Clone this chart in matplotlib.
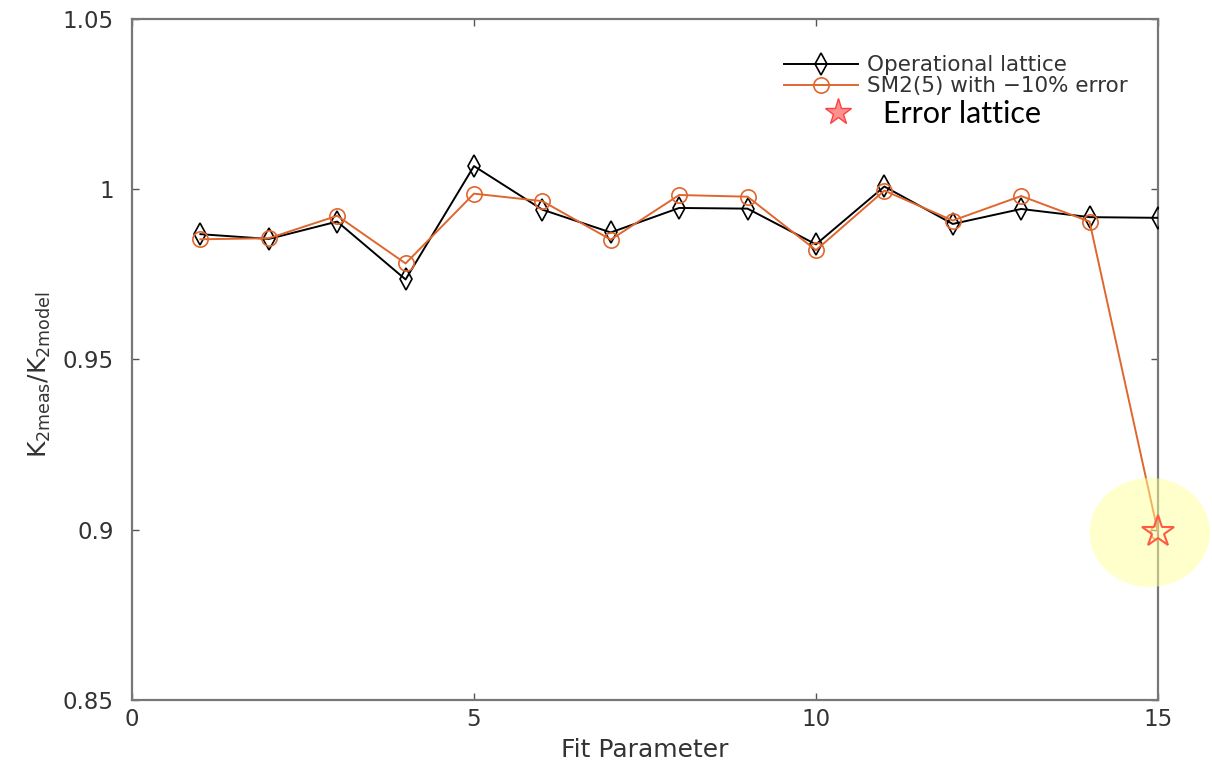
import matplotlib
matplotlib.use("Agg")
import matplotlib.pyplot as plt
from matplotlib.patches import Ellipse
from matplotlib.lines import Line2D

fit_param = list(range(1, 16))
operational = [0.9868, 0.9854, 0.9905, 0.9735, 1.0068, 0.9940, 0.9873, 0.9945, 0.9943,
               0.9838, 1.0008, 0.9898, 0.9942, 0.9918, 0.9916]
sm2_error = [0.9853, 0.9856, 0.9922, 0.9782, 0.9987, 0.9965, 0.9852, 0.9983, 0.9978,
             0.9821, 0.9996, 0.9908, 0.9980, 0.9905, 0.8992]
error_x = [15]
error_y = [0.8992]

xticks = [0, 5, 10, 15]
yticks = [0.85, 0.9, 0.95, 1.0, 1.05]
yticklabels = ["0.85", "0.9", "0.95", "1", "1.05"]

plt.rcParams['font.family'] = ['DejaVu Sans']
fig = plt.figure(figsize=(12.12, 7.65), dpi=100)
ax = fig.add_axes([0.1089, 0.0850, 0.8465, 0.8902])

orange = '#E0662E'
ax.plot(fit_param, operational, color='black', lw=1.4, marker='d', ms=11,
        mfc='none', mec='black', mew=1.2, label='Operational lattice', zorder=3)
ax.plot(fit_param, sm2_error, color=orange, lw=1.4, marker='o', ms=11,
        mfc='none', mec=orange, mew=1.2, label='SM2(5) with \u221210% error', zorder=4)

# highlight ellipse
ell = Ellipse((14.88, 0.8992), width=1.76, height=0.032, facecolor='#FFFF99',
              alpha=0.5, edgecolor='none', clip_on=False, zorder=5)
ax.add_patch(ell)
ax.plot(error_x, error_y, linestyle='none', marker='*', ms=24, mfc='none',
        mec='#FF5A45', mew=1.5, zorder=6, clip_on=False)

ax.set_xlim(0, 15)
ax.set_ylim(0.85, 1.05)
ax.set_xticks(xticks)
ax.set_yticks(yticks)
ax.set_yticklabels(yticklabels)
ax.tick_params(direction='in', length=5, width=1, color='#555555',
               labelsize=16.5, labelcolor='#333333', top=True, right=True)
ax.tick_params(axis='y', pad=13)
ax.tick_params(axis='x', pad=6)
for s in ax.spines.values():
    s.set_color('#777777')
    s.set_linewidth(1.6)

ax.set_xlabel('Fit Parameter', fontsize=18, color='#333333', labelpad=5)
ax.set_ylabel(r'K$_{\mathregular{2meas}}$/K$_{\mathregular{2model}}$', fontsize=18,
              color='#333333')
ax.yaxis.set_label_coords(-0.077, 0.477)

handles, labels = ax.get_legend_handles_labels()
leg = ax.legend(handles, labels, loc='upper left', bbox_to_anchor=(0.636, 0.947),
                frameon=False, fontsize=15.5, handlelength=3.4, labelspacing=0.05,
                handletextpad=0.45, borderaxespad=0.0, borderpad=0.0)
for t in leg.get_texts():
    t.set_color('#333333')
ax.add_artist(leg)

star_handle = Line2D([], [], linestyle='none', marker='*', ms=20, mfc='#FF9090',
                     mec='#FF4040', mew=1.0)
leg2 = ax.legend([star_handle], ['Error lattice'], loc='upper left',
                 bbox_to_anchor=(0.658, 0.881), frameon=False, handlelength=2.0,
                 handletextpad=0.5, borderaxespad=0.0, borderpad=0.0,
                 prop={'family': 'Lato', 'size': 22})
leg2.get_texts()[0].set_color('black')

fig.savefig('out.png', dpi=100)
